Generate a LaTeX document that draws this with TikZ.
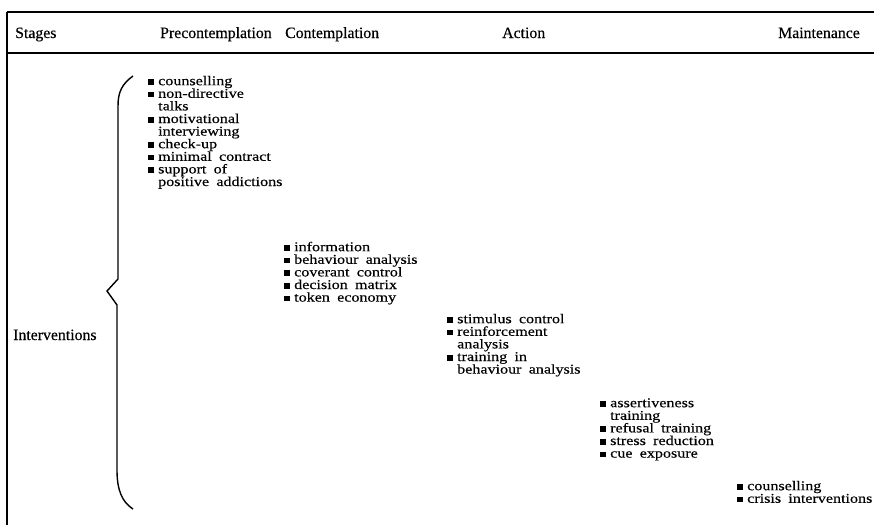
\documentclass[tikz,border=0pt]{standalone}
\usepackage{fontspec}
\setmainfont{Liberation Serif}[FakeBold=0.3]
\newfontfamily\listfont[FakeStretch=1.2,FakeBold=0.35,WordSpace=1.8]{Liberation Serif}
\newcommand\bul{\rule[0.5pt]{5.5pt}{5.5pt}\hspace{4.5pt}}
\newcommand\cnt{\hspace*{10pt}}
\newcommand\fst{\rule{0pt}{10pt}}
\begin{document}
\begin{tikzpicture}[x=1pt,y=-1pt,
  head/.style={font=\fontsize{15.8}{18}\selectfont,inner sep=0,anchor=base west},
  items/.style={font=\listfont\fontsize{13.4}{12.6}\selectfont,inner sep=0,anchor=north west,align=left},
  rule/.style={line width=1.1pt}]
\useasboundingbox (0,0) rectangle (874,525);
\draw[line width=1.5pt] (7,12) -- (874,12);
\draw[rule] (7,53) -- (874,53);
\draw[rule] (7,11.5) -- (7,525);
\node[head] (stages) at (15,38) {Stages};
\node[head] (pre) at (160,38) {Precontemplation};
\node[head] (con) at (285,38) {Contemplation};
\node[head] (act) at (502,38) {Action};
\node[head] (mai) at (778,38) {Maintenance};
\node[head] (int) at (13,340) {Interventions};
\draw[line width=1.4pt] (133,76) .. controls (122,84) and (118,92) .. (118,106) -- (118,279) -- (107,291) -- (117,305) -- (117,470) .. controls (117,490) and (122,502) .. (133,509);
\node[items] (c1) at (148,75) {\fst\bul counselling\\\bul non-directive\\\cnt talks\\\bul motivational\\\cnt interviewing\\\bul check-up\\\bul minimal contract\\\bul support of\\\cnt positive addictions};
\node[items] (c2) at (284,241) {\fst\bul information\\\bul behaviour analysis\\\bul coverant control\\\bul decision matrix\\\bul token economy};
\node[items] (c3) at (447,313) {\fst\bul stimulus control\\\bul reinforcement\\\cnt analysis\\\bul training in\\\cnt behaviour analysis};
\node[items] (c4) at (600,397) {\fst\bul assertiveness\\\cnt training\\\bul refusal training\\\bul stress reduction\\\bul cue exposure};
\node[items] (c5) at (737,480) {\fst\bul counselling\\\bul crisis interventions};
\end{tikzpicture}
\end{document}
